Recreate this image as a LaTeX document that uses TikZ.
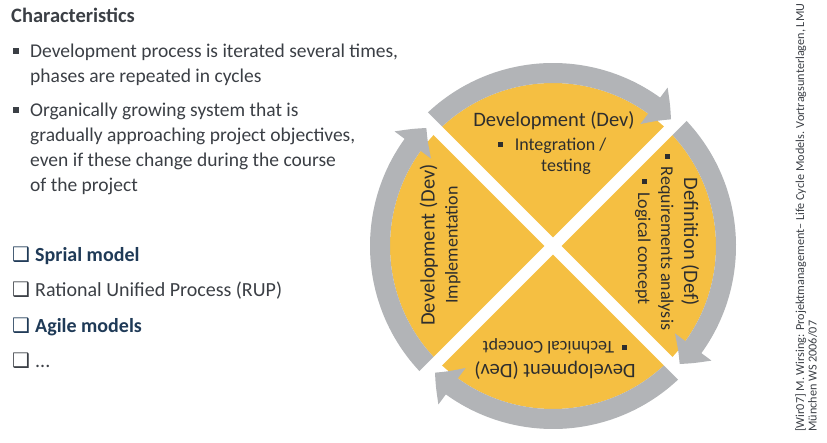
\documentclass[tikz,border=0pt]{standalone}
\usepackage{fontspec}
\setmainfont{Carlito}
\newfontfamily\boxfont{DejaVu Sans}
\usetikzlibrary{arrows.meta,bending}

\definecolor{bodytext}{HTML}{3B3F45}
\definecolor{navytext}{HTML}{1F3A57}
\definecolor{wheelfill}{HTML}{F5BF42}
\definecolor{ringgray}{HTML}{B2B4B7}
\definecolor{wheeltext}{HTML}{2E2E2E}

\newcommand{\sqb}{\rule[0.22em]{5pt}{5pt}}
\newcommand{\chk}{{\boxfont\fontsize{20}{20}\selectfont ❑}}
\newcommand{\headfont}{\fontsize{20.5}{25}\selectfont}

\tikzstyle{bodytxt}=[anchor=base west, inner sep=0pt, align=left, text=bodytext, font=\fontsize{19.5}{25}\selectfont]
\tikzstyle{listtxt}=[anchor=base west, inner sep=0pt, text=bodytext, font=\fontsize{20}{25}\selectfont]
\tikzstyle{sqdot}=[rectangle, fill=bodytext, minimum size=6pt, inner sep=0pt]
\tikzstyle{ring}=[draw=ringgray, line width=20pt, -{Triangle[width=44pt,length=22pt,bend]}]
\tikzstyle{cut}=[draw=white, line width=12pt]
\tikzstyle{phase}=[align=center, inner sep=0pt, text=wheeltext, font=\fontsize{18}{23}\selectfont]

\begin{document}
\begin{tikzpicture}[x=1pt, y=1pt]
\useasboundingbox (0,0) rectangle (827,442);

\node[bodytxt, font=\bfseries\fontsize{20.5}{25}\selectfont] (title) at (11,419) {Characteristics};
\node[sqdot] (d1) at (16,391) {};
\node[bodytxt] (p1) at (30,359) {Development process is iterated several times,\\phases are repeated in cycles};
\node[sqdot] (d2) at (16,332) {};
\node[bodytxt] (p2) at (30,250) {Organically growing system that is\\gradually approaching project objectives,\\even if these change during the course\\of the project};

\node[listtxt, text=navytext] (k1) at (12,180) {\chk};
\node[listtxt, text=navytext, font=\bfseries\fontsize{20}{25}\selectfont] (m1) at (35,180) {Sprial model};
\node[listtxt] (k2) at (12,145) {\chk};
\node[listtxt] (m2) at (35,145) {Rational Unified Process (RUP)};
\node[listtxt, text=navytext] (k3) at (12,110) {\chk};
\node[listtxt, text=navytext, font=\bfseries\fontsize{20}{25}\selectfont] (m3) at (35,110) {Agile models};
\node[listtxt] (k4) at (12,75) {\chk};
\node[listtxt] (m4) at (35,75) {...};

\coordinate (c) at (553,196);
\fill[wheelfill] (c) circle (163);
\draw[ring] ([shift={(135:173)}]c) arc[start angle=135, end angle=47, radius=173];
\draw[ring] ([shift={(45:173)}]c) arc[start angle=45, end angle=-43, radius=173];
\draw[ring] ([shift={(-45:173)}]c) arc[start angle=-45, end angle=-133, radius=173];
\draw[ring] ([shift={(225:173)}]c) arc[start angle=225, end angle=137, radius=173];
\draw[cut] ([shift={(45:186)}]c) -- ([shift={(225:186)}]c);
\draw[cut] ([shift={(135:186)}]c) -- ([shift={(-45:186)}]c);

\node[phase, font=\headfont] (top) at (554,321) {Development (Dev)};
\node[phase] (topa) at (552,296) {\sqb\hspace{12pt}Integration /};
\node[phase] (topb) at (566,275) {testing};
\node[phase, rotate=-90] (right) at (667,200) {{\headfont Definition (Def)}\\\sqb\ \ Requirements analysis\\\sqb\ \ Logical concept};
\node[phase, rotate=180] (bottom) at (555,83) {{\headfont Development (Dev)}\\\sqb\ \ Technical Concept};
\node[phase, rotate=90] (left) at (440,197) {{\headfont Development (Dev)}\\Implementation};

\node[anchor=north west, inner sep=0pt, rotate=90, align=left, text=bodytext, font=\fontsize{12.2}{12.5}\selectfont] (cite) at (795,10) {[Wir07] M. Wirsing: Projektmanagement-- Life Cycle Models. Vortragsunterlagen, LMU\\München WS 2006/07};
\end{tikzpicture}
\end{document}
